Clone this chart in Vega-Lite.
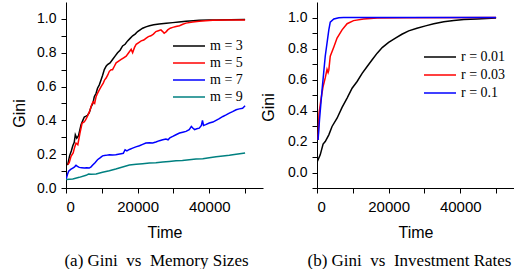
{
  "$schema": "https://vega.github.io/schema/vega-lite/v6.json",
  "padding": {"left": 11, "top": 2, "right": 0, "bottom": 0},
  "background": "white",
  "bounds": "flush",
  "spacing": 54,
  "config": {
    "view": {"stroke": null},
    "axis": {"domainColor": "black", "tickColor": "black", "labelColor": "black", "titleColor": "black", "grid": false, "labelFont": "Liberation Sans", "titleFont": "Liberation Sans", "titleFontWeight": "normal", "tickSize": 5, "domainWidth": 1, "tickWidth": 1},
    "legend": {"title": null, "labelFont": "Liberation Serif", "labelFontSize": 14, "labelColor": "black", "symbolType": "M-4,0H4", "symbolSize": 64, "symbolStrokeWidth": 1.5, "labelOffset": 14, "rowPadding": 3, "padding": 0},
    "title": {"font": "Liberation Serif", "fontSize": 17, "fontWeight": "normal", "color": "black"}
  },
  "resolve": {"scale": {"stroke": "independent"}, "legend": {"stroke": "independent"}},
  "datasets": {
    "a": [
      {"s":"m = 3","t":0,"g":0.138},{"s":"m = 3","t":500,"g":0.14},{"s":"m = 3","t":1000,"g":0.19},{"s":"m = 3","t":1500,"g":0.22},{"s":"m = 3","t":1900,"g":0.25},{"s":"m = 3","t":2300,"g":0.27},{"s":"m = 3","t":2600,"g":0.315},{"s":"m = 3","t":3000,"g":0.295},{"s":"m = 3","t":3500,"g":0.31},{"s":"m = 3","t":4200,"g":0.374},{"s":"m = 3","t":4700,"g":0.4},{"s":"m = 3","t":5100,"g":0.42},{"s":"m = 3","t":5600,"g":0.425},{"s":"m = 3","t":6000,"g":0.43},{"s":"m = 3","t":6500,"g":0.445},{"s":"m = 3","t":7000,"g":0.48},{"s":"m = 3","t":7500,"g":0.5},{"s":"m = 3","t":7900,"g":0.54},{"s":"m = 3","t":8400,"g":0.56},{"s":"m = 3","t":8800,"g":0.59},{"s":"m = 3","t":9300,"g":0.61},{"s":"m = 3","t":9800,"g":0.64},{"s":"m = 3","t":10200,"g":0.665},{"s":"m = 3","t":10700,"g":0.7},{"s":"m = 3","t":11200,"g":0.72},{"s":"m = 3","t":11600,"g":0.73},{"s":"m = 3","t":12300,"g":0.74},{"s":"m = 3","t":13000,"g":0.76},{"s":"m = 3","t":13700,"g":0.78},{"s":"m = 3","t":14400,"g":0.8},{"s":"m = 3","t":15100,"g":0.815},{"s":"m = 3","t":15800,"g":0.84},{"s":"m = 3","t":16500,"g":0.85},{"s":"m = 3","t":17200,"g":0.87},{"s":"m = 3","t":17900,"g":0.885},{"s":"m = 3","t":18600,"g":0.9},{"s":"m = 3","t":19300,"g":0.91},{"s":"m = 3","t":20000,"g":0.925},{"s":"m = 3","t":20700,"g":0.935},{"s":"m = 3","t":21400,"g":0.945},{"s":"m = 3","t":22300,"g":0.953},{"s":"m = 3","t":23300,"g":0.96},{"s":"m = 3","t":24500,"g":0.965},{"s":"m = 3","t":26000,"g":0.97},{"s":"m = 3","t":28000,"g":0.974},{"s":"m = 3","t":29800,"g":0.978},{"s":"m = 3","t":31500,"g":0.982},{"s":"m = 3","t":33500,"g":0.986},{"s":"m = 3","t":35500,"g":0.989},{"s":"m = 3","t":37200,"g":0.992},{"s":"m = 3","t":40000,"g":0.993},{"s":"m = 3","t":42000,"g":0.994},{"s":"m = 3","t":46000,"g":0.995},{"s":"m = 3","t":50000,"g":0.996},
      {"s":"m = 5","t":500,"g":0.138},{"s":"m = 5","t":900,"g":0.15},{"s":"m = 5","t":1400,"g":0.187},{"s":"m = 5","t":2000,"g":0.207},{"s":"m = 5","t":2400,"g":0.24},{"s":"m = 5","t":2800,"g":0.266},{"s":"m = 5","t":3300,"g":0.256},{"s":"m = 5","t":3900,"g":0.325},{"s":"m = 5","t":4500,"g":0.384},{"s":"m = 5","t":5000,"g":0.39},{"s":"m = 5","t":5400,"g":0.4},{"s":"m = 5","t":5900,"g":0.42},{"s":"m = 5","t":6300,"g":0.44},{"s":"m = 5","t":6700,"g":0.46},{"s":"m = 5","t":7000,"g":0.48},{"s":"m = 5","t":7300,"g":0.5},{"s":"m = 5","t":7600,"g":0.51},{"s":"m = 5","t":8000,"g":0.5},{"s":"m = 5","t":8400,"g":0.54},{"s":"m = 5","t":8800,"g":0.56},{"s":"m = 5","t":9300,"g":0.58},{"s":"m = 5","t":9800,"g":0.6},{"s":"m = 5","t":10400,"g":0.62},{"s":"m = 5","t":10800,"g":0.64},{"s":"m = 5","t":11200,"g":0.65},{"s":"m = 5","t":11700,"g":0.67},{"s":"m = 5","t":12100,"g":0.69},{"s":"m = 5","t":12600,"g":0.7},{"s":"m = 5","t":13000,"g":0.7},{"s":"m = 5","t":13500,"g":0.72},{"s":"m = 5","t":14000,"g":0.74},{"s":"m = 5","t":14700,"g":0.75},{"s":"m = 5","t":15400,"g":0.76},{"s":"m = 5","t":16100,"g":0.77},{"s":"m = 5","t":16800,"g":0.78},{"s":"m = 5","t":17500,"g":0.8},{"s":"m = 5","t":18200,"g":0.82},{"s":"m = 5","t":18600,"g":0.8},{"s":"m = 5","t":19100,"g":0.83},{"s":"m = 5","t":19600,"g":0.85},{"s":"m = 5","t":20300,"g":0.86},{"s":"m = 5","t":21000,"g":0.87},{"s":"m = 5","t":21700,"g":0.875},{"s":"m = 5","t":22300,"g":0.885},{"s":"m = 5","t":23000,"g":0.895},{"s":"m = 5","t":23700,"g":0.9},{"s":"m = 5","t":24400,"g":0.91},{"s":"m = 5","t":25100,"g":0.925},{"s":"m = 5","t":25800,"g":0.93},{"s":"m = 5","t":26500,"g":0.935},{"s":"m = 5","t":27000,"g":0.925},{"s":"m = 5","t":27400,"g":0.915},{"s":"m = 5","t":28000,"g":0.925},{"s":"m = 5","t":28400,"g":0.935},{"s":"m = 5","t":29100,"g":0.945},{"s":"m = 5","t":29800,"g":0.95},{"s":"m = 5","t":30700,"g":0.955},{"s":"m = 5","t":31700,"g":0.96},{"s":"m = 5","t":32600,"g":0.968},{"s":"m = 5","t":33500,"g":0.975},{"s":"m = 5","t":35400,"g":0.982},{"s":"m = 5","t":37200,"g":0.986},{"s":"m = 5","t":39000,"g":0.989},{"s":"m = 5","t":41000,"g":0.992},{"s":"m = 5","t":45000,"g":0.993},{"s":"m = 5","t":50000,"g":0.994},
      {"s":"m = 7","t":0,"g":0.05},{"s":"m = 7","t":400,"g":0.08},{"s":"m = 7","t":750,"g":0.1},{"s":"m = 7","t":1300,"g":0.11},{"s":"m = 7","t":1900,"g":0.118},{"s":"m = 7","t":2400,"g":0.125},{"s":"m = 7","t":2800,"g":0.134},{"s":"m = 7","t":3200,"g":0.128},{"s":"m = 7","t":3700,"g":0.122},{"s":"m = 7","t":4400,"g":0.12},{"s":"m = 7","t":5100,"g":0.118},{"s":"m = 7","t":5800,"g":0.12},{"s":"m = 7","t":6500,"g":0.118},{"s":"m = 7","t":7000,"g":0.125},{"s":"m = 7","t":7400,"g":0.134},{"s":"m = 7","t":8100,"g":0.15},{"s":"m = 7","t":8800,"g":0.167},{"s":"m = 7","t":9500,"g":0.178},{"s":"m = 7","t":10200,"g":0.19},{"s":"m = 7","t":11100,"g":0.193},{"s":"m = 7","t":12100,"g":0.197},{"s":"m = 7","t":13000,"g":0.195},{"s":"m = 7","t":13900,"g":0.197},{"s":"m = 7","t":14600,"g":0.2},{"s":"m = 7","t":15400,"g":0.203},{"s":"m = 7","t":16000,"g":0.205},{"s":"m = 7","t":16500,"g":0.226},{"s":"m = 7","t":17000,"g":0.22},{"s":"m = 7","t":17700,"g":0.228},{"s":"m = 7","t":18600,"g":0.236},{"s":"m = 7","t":19500,"g":0.243},{"s":"m = 7","t":20500,"g":0.25},{"s":"m = 7","t":21400,"g":0.258},{"s":"m = 7","t":22300,"g":0.266},{"s":"m = 7","t":23300,"g":0.268},{"s":"m = 7","t":24200,"g":0.266},{"s":"m = 7","t":25100,"g":0.272},{"s":"m = 7","t":26100,"g":0.28},{"s":"m = 7","t":27000,"g":0.285},{"s":"m = 7","t":27900,"g":0.29},{"s":"m = 7","t":28500,"g":0.285},{"s":"m = 7","t":29000,"g":0.297},{"s":"m = 7","t":29800,"g":0.305},{"s":"m = 7","t":30700,"g":0.315},{"s":"m = 7","t":31700,"g":0.325},{"s":"m = 7","t":32600,"g":0.33},{"s":"m = 7","t":33500,"g":0.335},{"s":"m = 7","t":34400,"g":0.345},{"s":"m = 7","t":35000,"g":0.364},{"s":"m = 7","t":35400,"g":0.355},{"s":"m = 7","t":35900,"g":0.345},{"s":"m = 7","t":36500,"g":0.35},{"s":"m = 7","t":37200,"g":0.354},{"s":"m = 7","t":37800,"g":0.37},{"s":"m = 7","t":38100,"g":0.4},{"s":"m = 7","t":38400,"g":0.37},{"s":"m = 7","t":39000,"g":0.375},{"s":"m = 7","t":40000,"g":0.384},{"s":"m = 7","t":41000,"g":0.39},{"s":"m = 7","t":41900,"g":0.4},{"s":"m = 7","t":42800,"g":0.41},{"s":"m = 7","t":43800,"g":0.423},{"s":"m = 7","t":44700,"g":0.432},{"s":"m = 7","t":45600,"g":0.443},{"s":"m = 7","t":46500,"g":0.452},{"s":"m = 7","t":47500,"g":0.463},{"s":"m = 7","t":48400,"g":0.468},{"s":"m = 7","t":49300,"g":0.472},{"s":"m = 7","t":50000,"g":0.486},
      {"s":"m = 9","t":0,"g":0.05},{"s":"m = 9","t":1900,"g":0.053},{"s":"m = 9","t":3700,"g":0.063},{"s":"m = 9","t":5600,"g":0.075},{"s":"m = 9","t":6300,"g":0.083},{"s":"m = 9","t":7000,"g":0.082},{"s":"m = 9","t":8400,"g":0.083},{"s":"m = 9","t":10200,"g":0.093},{"s":"m = 9","t":12100,"g":0.102},{"s":"m = 9","t":13900,"g":0.112},{"s":"m = 9","t":15800,"g":0.124},{"s":"m = 9","t":17700,"g":0.136},{"s":"m = 9","t":19600,"g":0.14},{"s":"m = 9","t":21400,"g":0.144},{"s":"m = 9","t":23300,"g":0.148},{"s":"m = 9","t":25100,"g":0.15},{"s":"m = 9","t":27000,"g":0.154},{"s":"m = 9","t":28800,"g":0.157},{"s":"m = 9","t":30700,"g":0.161},{"s":"m = 9","t":32500,"g":0.163},{"s":"m = 9","t":34400,"g":0.167},{"s":"m = 9","t":36300,"g":0.171},{"s":"m = 9","t":38200,"g":0.173},{"s":"m = 9","t":40000,"g":0.179},{"s":"m = 9","t":41900,"g":0.185},{"s":"m = 9","t":43800,"g":0.189},{"s":"m = 9","t":45600,"g":0.193},{"s":"m = 9","t":47500,"g":0.199},{"s":"m = 9","t":50000,"g":0.207}
    ],
    "b": [
      {"s":"r = 0.01","t":0,"g":0.067},{"s":"r = 0.01","t":900,"g":0.114},{"s":"r = 0.01","t":1700,"g":0.183},{"s":"r = 0.01","t":2300,"g":0.2},{"s":"r = 0.01","t":3300,"g":0.243},{"s":"r = 0.01","t":4200,"g":0.297},{"s":"r = 0.01","t":5600,"g":0.35},{"s":"r = 0.01","t":7000,"g":0.42},{"s":"r = 0.01","t":8400,"g":0.48},{"s":"r = 0.01","t":9800,"g":0.544},{"s":"r = 0.01","t":11200,"g":0.587},{"s":"r = 0.01","t":12600,"g":0.64},{"s":"r = 0.01","t":14000,"g":0.684},{"s":"r = 0.01","t":15400,"g":0.727},{"s":"r = 0.01","t":16800,"g":0.77},{"s":"r = 0.01","t":18200,"g":0.806},{"s":"r = 0.01","t":20000,"g":0.839},{"s":"r = 0.01","t":21900,"g":0.867},{"s":"r = 0.01","t":23700,"g":0.892},{"s":"r = 0.01","t":25600,"g":0.914},{"s":"r = 0.01","t":27900,"g":0.931},{"s":"r = 0.01","t":30300,"g":0.946},{"s":"r = 0.01","t":32600,"g":0.959},{"s":"r = 0.01","t":35400,"g":0.972},{"s":"r = 0.01","t":38200,"g":0.98},{"s":"r = 0.01","t":41000,"g":0.987},{"s":"r = 0.01","t":44700,"g":0.991},{"s":"r = 0.01","t":50000,"g":0.996},
      {"s":"r = 0.03","t":300,"g":0.21},{"s":"r = 0.03","t":560,"g":0.38},{"s":"r = 0.03","t":1100,"g":0.47},{"s":"r = 0.03","t":1700,"g":0.555},{"s":"r = 0.03","t":2300,"g":0.61},{"s":"r = 0.03","t":2800,"g":0.665},{"s":"r = 0.03","t":3100,"g":0.645},{"s":"r = 0.03","t":3300,"g":0.66},{"s":"r = 0.03","t":3700,"g":0.75},{"s":"r = 0.03","t":4700,"g":0.81},{"s":"r = 0.03","t":5600,"g":0.867},{"s":"r = 0.03","t":7000,"g":0.92},{"s":"r = 0.03","t":8400,"g":0.96},{"s":"r = 0.03","t":10200,"g":0.98},{"s":"r = 0.03","t":13000,"g":0.99},{"s":"r = 0.03","t":16800,"g":0.996},{"s":"r = 0.03","t":25000,"g":0.999},{"s":"r = 0.03","t":50000,"g":1.0},
      {"s":"r = 0.1","t":300,"g":0.21},{"s":"r = 0.1","t":700,"g":0.34},{"s":"r = 0.1","t":1400,"g":0.53},{"s":"r = 0.1","t":2300,"g":0.75},{"s":"r = 0.1","t":3300,"g":0.92},{"s":"r = 0.1","t":3700,"g":0.97},{"s":"r = 0.1","t":4700,"g":0.99},{"s":"r = 0.1","t":6100,"g":0.998},{"s":"r = 0.1","t":7400,"g":1.0},{"s":"r = 0.1","t":50000,"g":1.0}
    ]
  },
  "hconcat": [
    {
      "width": 197, "height": 186,
      "data": {"name": "a"},
      "title": {"text": "(a) Gini\u00a0 vs\u00a0 Memory Sizes", "orient": "bottom", "offset": 13, "dx": -8},
      "mark": {"type": "line", "strokeWidth": 1.5, "clip": true},
      "encoding": {
        "x": {"field": "t", "type": "quantitative", "scale": {"domain": [0, 55000], "nice": false, "zero": false},
          "axis": {"title": "Time", "titleFontSize": 16, "titlePadding": 10, "labelFontSize": 15, "labelPadding": 6, "values": [0,10000,20000,30000,40000,50000], "labelExpr": "datum.value % 20000 == 0 ? format(datum.value, 'd') : ''"}},
        "y": {"field": "g", "type": "quantitative", "scale": {"domain": [0, 1.1], "nice": false},
          "axis": {"title": "Gini", "titleFontSize": 16, "titleAngle": 270, "titleAlign": "center", "titleBaseline": "middle", "titleX": -47, "titleY": 111, "labelFontSize": 14, "labelPadding": 5, "values": [0,0.1,0.2,0.3,0.4,0.5,0.6,0.7,0.8,0.9,1.0], "labelExpr": "round(datum.value*10) % 2 == 0 ? format(datum.value, '.1f') : ''"}},
        "stroke": {"field": "s", "type": "nominal", "scale": {"domain": ["m = 3","m = 5","m = 7","m = 9"], "range": ["#000000","#ff0000","#0000ff","#008080"]},
          "legend": {"orient": "none", "legendX": 116, "legendY": 37}}
      }
    },
    {
      "width": 197, "height": 186,
      "data": {"name": "b"},
      "title": {"text": "(b) Gini\u00a0 vs\u00a0 Investment Rates", "orient": "bottom", "offset": 13, "dx": -6},
      "mark": {"type": "line", "strokeWidth": 1.5, "clip": true},
      "encoding": {
        "x": {"field": "t", "type": "quantitative", "scale": {"domain": [0, 55000], "nice": false, "zero": false},
          "axis": {"title": "Time", "titleFontSize": 16, "titlePadding": 10, "labelFontSize": 15, "labelPadding": 6, "values": [0,10000,20000,30000,40000,50000], "labelExpr": "datum.value % 20000 == 0 ? format(datum.value, 'd') : ''"}},
        "y": {"field": "g", "type": "quantitative", "scale": {"domain": [-0.1, 1.1], "nice": false},
          "axis": {"title": "Gini", "titleFontSize": 16, "titleAngle": 270, "titleAlign": "center", "titleBaseline": "middle", "titleX": -49, "titleY": 105, "labelFontSize": 14, "labelPadding": 5, "values": [-0.1,0,0.1,0.2,0.3,0.4,0.5,0.6,0.7,0.8,0.9,1.0], "labelExpr": "round(datum.value*10) % 2 == 0 ? format(datum.value, '.1f') : ''"}},
        "stroke": {"field": "s", "type": "nominal", "scale": {"domain": ["r = 0.01","r = 0.03","r = 0.1"], "range": ["#000000","#ff0000","#0000ff"]},
          "legend": {"orient": "none", "legendX": 116, "legendY": 48, "rowPadding": 4}}
      }
    }
  ]
}
